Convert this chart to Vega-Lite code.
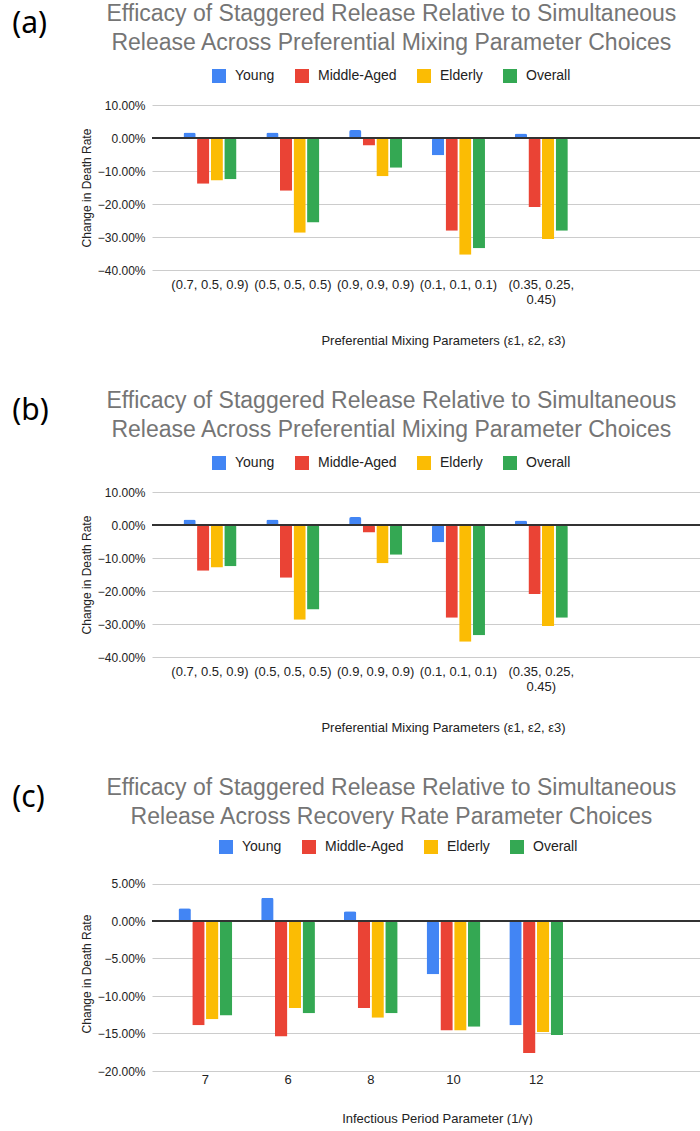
{
  "$schema": "https://vega.github.io/schema/vega-lite/v6.json",
  "background": "white",
  "padding": {"left": 12, "top": 3, "right": 0, "bottom": 0},
  "spacing": 43,
  "config": {
    "font": "Liberation Sans",
    "view": {"stroke": null},
    "bar": {"cornerRadiusEnd": 2},
    "axisY": {"domain": false, "ticks": false, "grid": true, "gridColor": "#cccccc", "tickCount": 12, "labelFontSize": 12, "labelColor": "#222222", "labelPadding": 7, "titleFontSize": 12, "titleFontWeight": "normal", "titleColor": "#222222"},
    "axisX": {"domain": false, "ticks": false, "grid": false, "labelAngle": 0, "labelFontSize": 13, "labelColor": "#222222", "titleFontSize": 13, "titleFontWeight": "normal", "titleColor": "#222222"},
    "legend": {"orient": "none", "direction": "horizontal", "symbolType": "square", "symbolSize": 196, "symbolStrokeWidth": 0, "labelFontSize": 14, "labelColor": "#222222", "columnPadding": 20, "labelOffset": 9, "title": null}
  },
  "datasets": {
    "mix": [
      {"params": "(0.7, 0.5, 0.9)", "group": "Young", "change": 0.017},
      {"params": "(0.7, 0.5, 0.9)", "group": "Middle-Aged", "change": -0.139},
      {"params": "(0.7, 0.5, 0.9)", "group": "Elderly", "change": -0.129},
      {"params": "(0.7, 0.5, 0.9)", "group": "Overall", "change": -0.125},
      {"params": "(0.5, 0.5, 0.5)", "group": "Young", "change": 0.017},
      {"params": "(0.5, 0.5, 0.5)", "group": "Middle-Aged", "change": -0.160},
      {"params": "(0.5, 0.5, 0.5)", "group": "Elderly", "change": -0.287},
      {"params": "(0.5, 0.5, 0.5)", "group": "Overall", "change": -0.256},
      {"params": "(0.9, 0.9, 0.9)", "group": "Young", "change": 0.024},
      {"params": "(0.9, 0.9, 0.9)", "group": "Middle-Aged", "change": -0.023},
      {"params": "(0.9, 0.9, 0.9)", "group": "Elderly", "change": -0.116},
      {"params": "(0.9, 0.9, 0.9)", "group": "Overall", "change": -0.090},
      {"params": "(0.1, 0.1, 0.1)", "group": "Young", "change": -0.052},
      {"params": "(0.1, 0.1, 0.1)", "group": "Middle-Aged", "change": -0.281},
      {"params": "(0.1, 0.1, 0.1)", "group": "Elderly", "change": -0.354},
      {"params": "(0.1, 0.1, 0.1)", "group": "Overall", "change": -0.334},
      {"params": "(0.35, 0.25, 0.45)", "group": "Young", "change": 0.014},
      {"params": "(0.35, 0.25, 0.45)", "group": "Middle-Aged", "change": -0.209},
      {"params": "(0.35, 0.25, 0.45)", "group": "Elderly", "change": -0.306},
      {"params": "(0.35, 0.25, 0.45)", "group": "Overall", "change": -0.281}
    ],
    "rec": [
      {"period": "7", "group": "Young", "change": 0.017},
      {"period": "7", "group": "Middle-Aged", "change": -0.139},
      {"period": "7", "group": "Elderly", "change": -0.131},
      {"period": "7", "group": "Overall", "change": -0.126},
      {"period": "6", "group": "Young", "change": 0.031},
      {"period": "6", "group": "Middle-Aged", "change": -0.154},
      {"period": "6", "group": "Elderly", "change": -0.116},
      {"period": "6", "group": "Overall", "change": -0.123},
      {"period": "8", "group": "Young", "change": 0.013},
      {"period": "8", "group": "Middle-Aged", "change": -0.116},
      {"period": "8", "group": "Elderly", "change": -0.129},
      {"period": "8", "group": "Overall", "change": -0.123},
      {"period": "10", "group": "Young", "change": -0.071},
      {"period": "10", "group": "Middle-Aged", "change": -0.146},
      {"period": "10", "group": "Elderly", "change": -0.146},
      {"period": "10", "group": "Overall", "change": -0.141},
      {"period": "12", "group": "Young", "change": -0.139},
      {"period": "12", "group": "Middle-Aged", "change": -0.176},
      {"period": "12", "group": "Elderly", "change": -0.148},
      {"period": "12", "group": "Overall", "change": -0.152}
    ]
  },
  "resolve": {"scale": {"x": "independent", "y": "independent", "xOffset": "independent", "color": "independent"}, "legend": {"color": "independent"}},
  "vconcat": [
    {
      "title": {"text": "(a)", "anchor": "start", "frame": "bounds", "fontSize": 30, "fontWeight": "normal", "font": "Noto Sans", "color": "#000000", "dx": -68, "offset": -36},
      "resolve": {"scale": {"color": "independent"}, "legend": {"color": "independent"}},
      "vconcat": [
        {
          "title": {"text": ["Efficacy of Staggered Release Relative to Simultaneous", "Release Across Preferential Mixing Parameter Choices"], "fontSize": 23, "fontWeight": "normal", "color": "#757575", "anchor": "middle", "frame": "bounds", "offset": 14, "lineHeight": 29},
          "width": 550,
          "height": 165,
          "data": {"name": "mix"},
          "layer": [
            {
              "mark": {"type": "bar"},
              "encoding": {
                "x": {"field": "params", "type": "nominal", "sort": ["(0.7, 0.5, 0.9)", "(0.5, 0.5, 0.5)", "(0.9, 0.9, 0.9)", "(0.1, 0.1, 0.1)", "(0.35, 0.25, 0.45)"], "scale": {"paddingInner": 0.36, "paddingOuter": 1.05, "align": 0.19}, "title": "Preferential Mixing Parameters (ε1, ε2, ε3)", "axis": {"labelPadding": 8, "titlePadding": 28, "titleX": 291, "labelExpr": "datum.label == '(0.35, 0.25, 0.45)' ? ['(0.35, 0.25,', '0.45)'] : datum.label"}},
                "xOffset": {"field": "group", "type": "nominal", "sort": ["Young", "Middle-Aged", "Elderly", "Overall"], "scale": {"paddingInner": 0.1}},
                "y": {"field": "change", "type": "quantitative", "scale": {"domain": [-0.4, 0.1]}, "title": "Change in Death Rate", "axis": {"values": [-0.4, -0.3, -0.2, -0.1, 0, 0.1], "format": ".2%"}},
                "color": {"field": "group", "type": "nominal", "sort": ["Young", "Middle-Aged", "Elderly", "Overall"], "scale": {"domain": ["Young", "Middle-Aged", "Elderly", "Overall"], "range": ["#4285F4", "#EA4335", "#FBBC04", "#34A853"]}, "legend": {"legendX": 60, "legendY": -36}}
              }
            },
            {"mark": {"type": "rule", "color": "#333333", "strokeWidth": 1}, "encoding": {"y": {"datum": 0}}}
          ]
        }
      ]
    },
    {
      "title": {"text": "(b)", "anchor": "start", "frame": "bounds", "fontSize": 30, "fontWeight": "normal", "font": "Noto Sans", "color": "#000000", "dx": -68, "offset": -36},
      "resolve": {"scale": {"color": "independent"}, "legend": {"color": "independent"}},
      "vconcat": [
        {
          "title": {"text": ["Efficacy of Staggered Release Relative to Simultaneous", "Release Across Preferential Mixing Parameter Choices"], "fontSize": 23, "fontWeight": "normal", "color": "#757575", "anchor": "middle", "frame": "bounds", "offset": 14, "lineHeight": 29},
          "width": 550,
          "height": 165,
          "data": {"name": "mix"},
          "layer": [
            {
              "mark": {"type": "bar"},
              "encoding": {
                "x": {"field": "params", "type": "nominal", "sort": ["(0.7, 0.5, 0.9)", "(0.5, 0.5, 0.5)", "(0.9, 0.9, 0.9)", "(0.1, 0.1, 0.1)", "(0.35, 0.25, 0.45)"], "scale": {"paddingInner": 0.36, "paddingOuter": 1.05, "align": 0.19}, "title": "Preferential Mixing Parameters (ε1, ε2, ε3)", "axis": {"labelPadding": 8, "titlePadding": 28, "titleX": 291, "labelExpr": "datum.label == '(0.35, 0.25, 0.45)' ? ['(0.35, 0.25,', '0.45)'] : datum.label"}},
                "xOffset": {"field": "group", "type": "nominal", "sort": ["Young", "Middle-Aged", "Elderly", "Overall"], "scale": {"paddingInner": 0.1}},
                "y": {"field": "change", "type": "quantitative", "scale": {"domain": [-0.4, 0.1]}, "title": "Change in Death Rate", "axis": {"values": [-0.4, -0.3, -0.2, -0.1, 0, 0.1], "format": ".2%"}},
                "color": {"field": "group", "type": "nominal", "sort": ["Young", "Middle-Aged", "Elderly", "Overall"], "scale": {"domain": ["Young", "Middle-Aged", "Elderly", "Overall"], "range": ["#4285F4", "#EA4335", "#FBBC04", "#34A853"]}, "legend": {"legendX": 60, "legendY": -36}}
              }
            },
            {"mark": {"type": "rule", "color": "#333333", "strokeWidth": 1}, "encoding": {"y": {"datum": 0}}}
          ]
        }
      ]
    },
    {
      "title": {"text": "(c)", "anchor": "start", "frame": "bounds", "fontSize": 30, "fontWeight": "normal", "font": "Noto Sans", "color": "#000000", "dx": -68, "offset": -36},
      "resolve": {"scale": {"color": "independent"}, "legend": {"color": "independent"}},
      "vconcat": [
        {
          "title": {"text": ["Efficacy of Staggered Release Relative to Simultaneous", "Release Across Recovery Rate Parameter Choices"], "fontSize": 23, "fontWeight": "normal", "color": "#757575", "anchor": "middle", "frame": "bounds", "offset": 11, "lineHeight": 29},
          "width": 550,
          "height": 195,
          "data": {"name": "rec"},
          "layer": [
            {
              "mark": {"type": "bar"},
              "encoding": {
                "x": {"field": "period", "type": "nominal", "sort": ["7", "6", "8", "10", "12"], "scale": {"paddingInner": 0.35, "paddingOuter": 1.04, "align": 0.16}, "title": "Infectious Period Parameter (1/γ)", "axis": {"labelPadding": 2, "titlePadding": 26, "titleX": 285}},
                "xOffset": {"field": "group", "type": "nominal", "sort": ["Young", "Middle-Aged", "Elderly", "Overall"], "scale": {"paddingInner": 0.1}},
                "y": {"field": "change", "type": "quantitative", "scale": {"domain": [-0.2, 0.05]}, "title": "Change in Death Rate", "axis": {"values": [-0.2, -0.15, -0.1, -0.05, 0, 0.05], "format": ".2%"}},
                "color": {"field": "group", "type": "nominal", "sort": ["Young", "Middle-Aged", "Elderly", "Overall"], "scale": {"domain": ["Young", "Middle-Aged", "Elderly", "Overall"], "range": ["#4285F4", "#EA4335", "#FBBC04", "#34A853"]}, "legend": {"legendX": 67, "legendY": -36}}
              }
            },
            {"mark": {"type": "rule", "color": "#333333", "strokeWidth": 1}, "encoding": {"y": {"datum": 0}}}
          ]
        }
      ]
    }
  ]
}
